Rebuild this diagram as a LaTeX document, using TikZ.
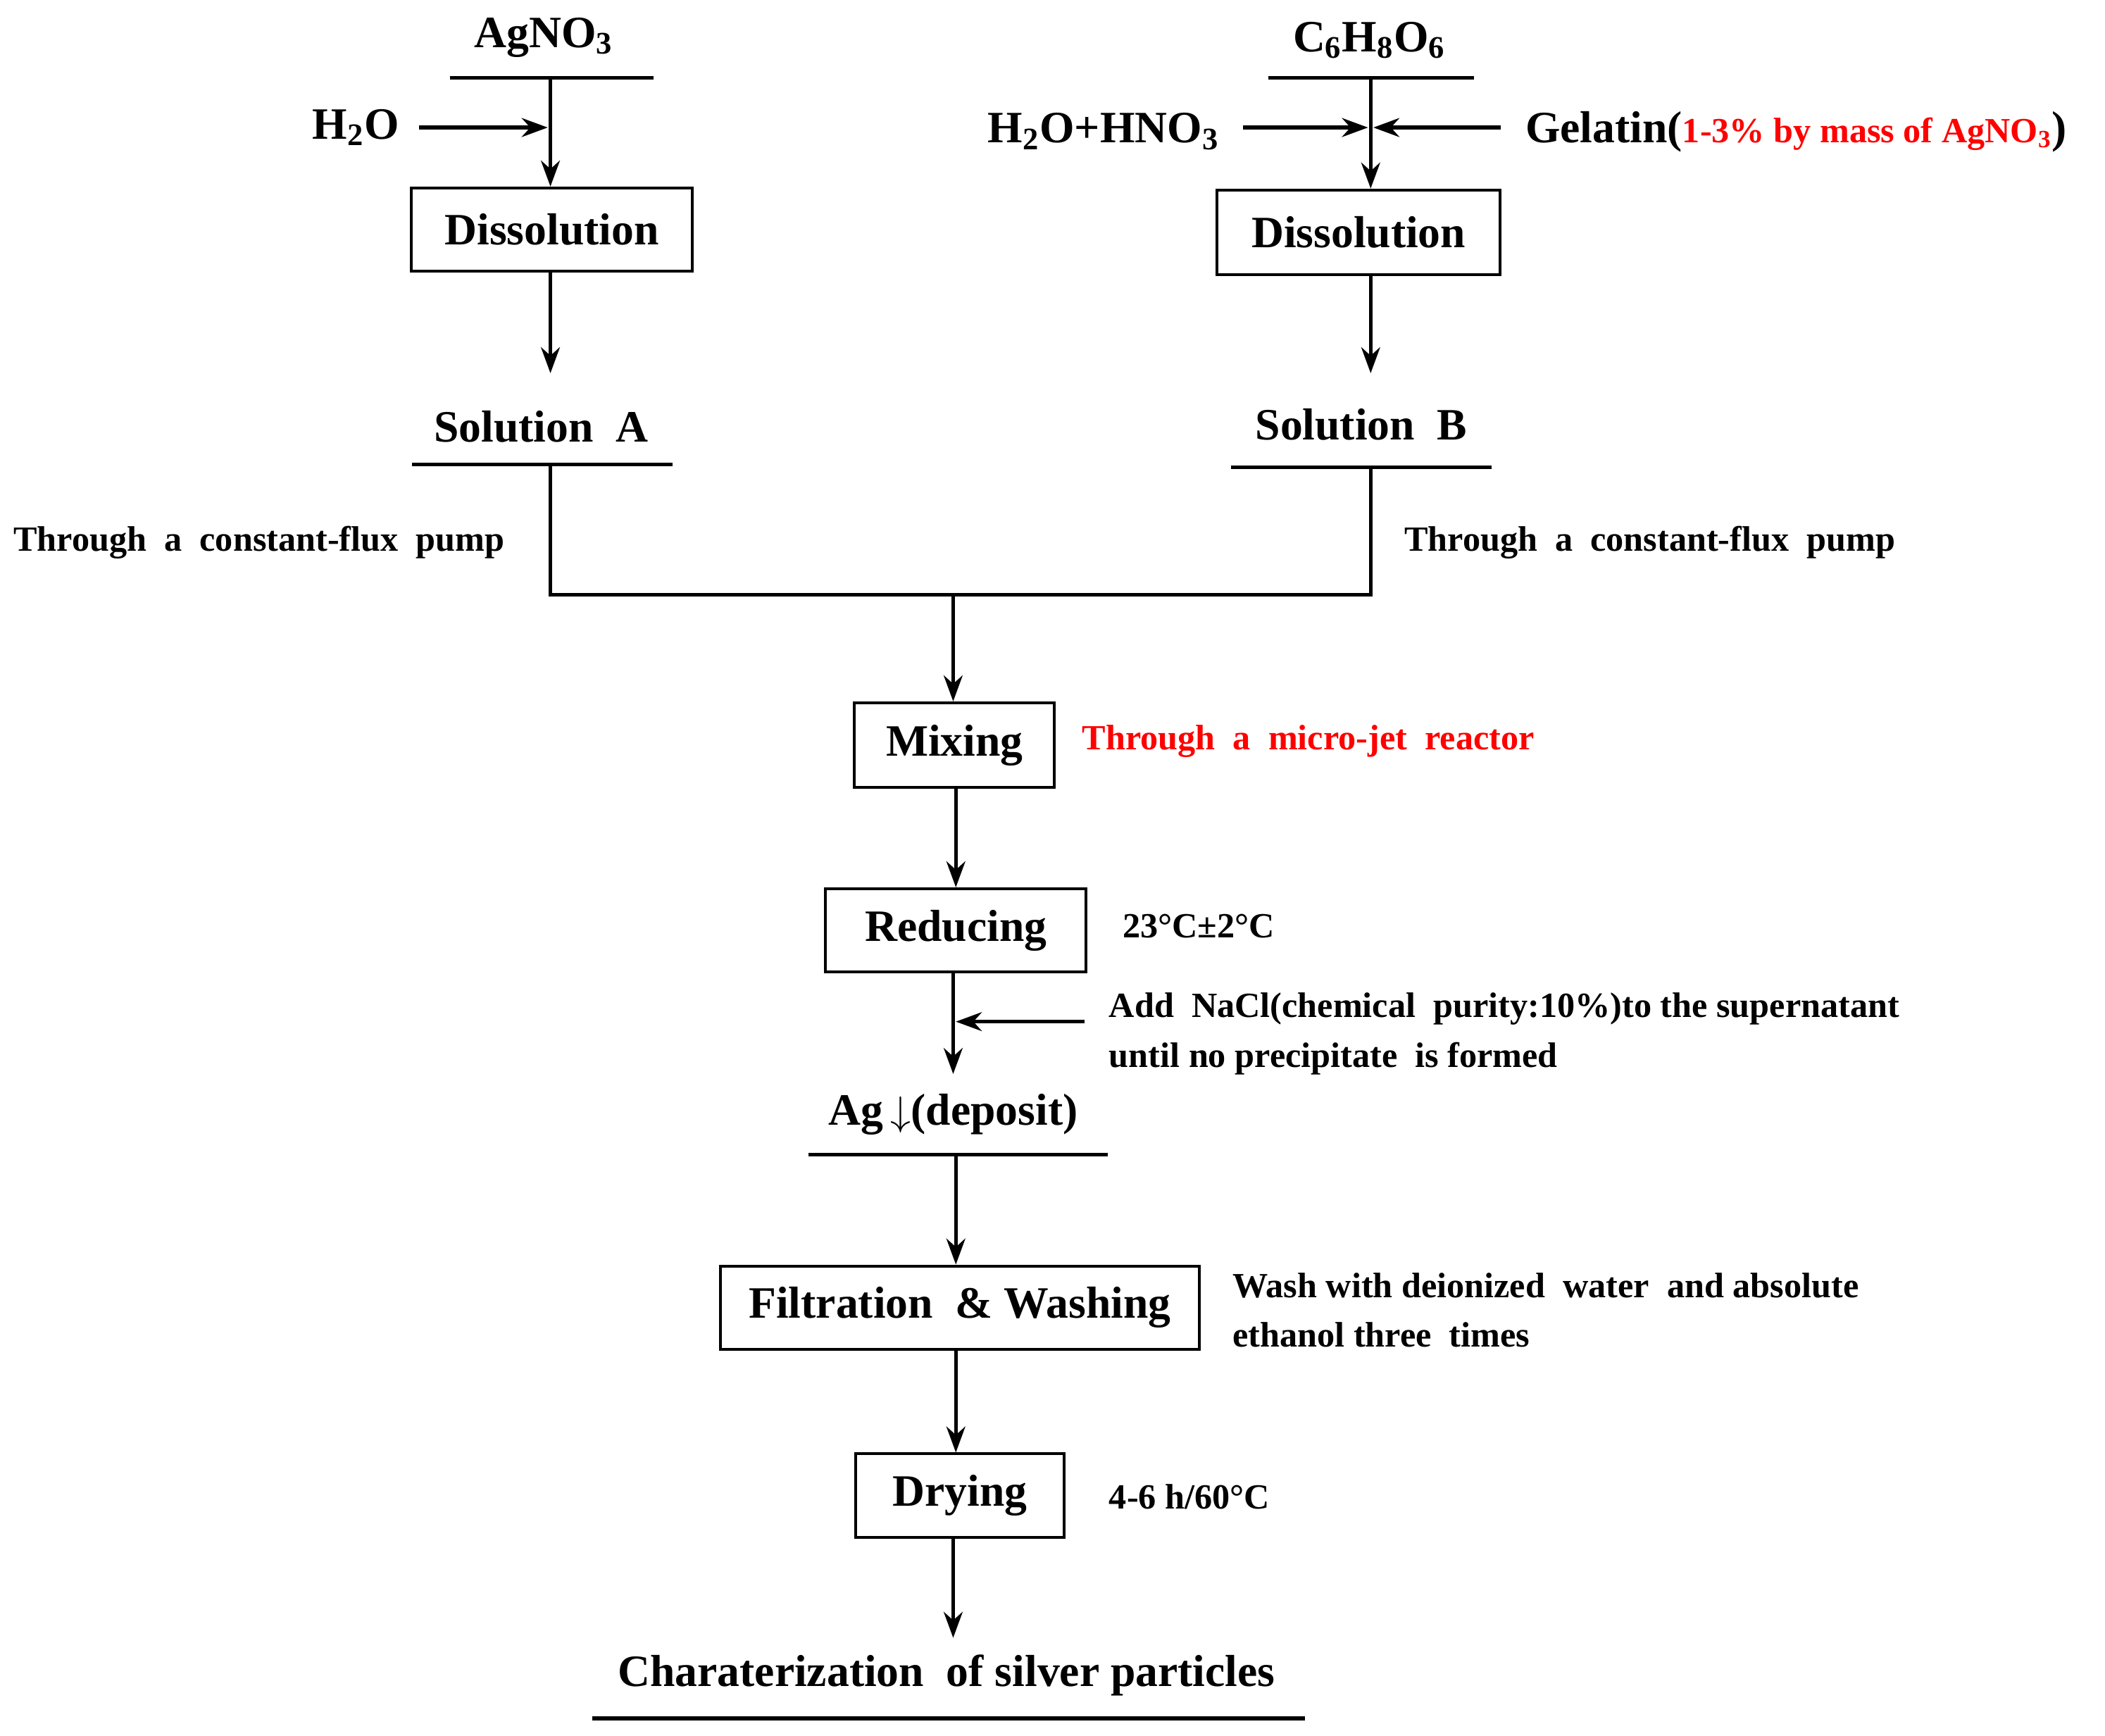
\documentclass[tikz,border=0pt]{standalone}
\usepackage{fontspec}
\setmainfont{Liberation Serif}
\usepackage{xcolor}
\usetikzlibrary{shapes,arrows,arrows.meta,positioning}

\begin{document}
\begin{tikzpicture}[
    x=0.02cm, y=-0.02cm,
    box/.style={draw, rectangle, line width=1.2pt, inner sep=0pt, align=center, font=\fontsize{19}{22}\selectfont\bfseries},
    big/.style={font=\fontsize{19}{22}\selectfont\bfseries},
    note/.style={font=\fontsize{15}{21}\selectfont\bfseries, align=left, anchor=west},
    arrow/.style={-{Stealth[length=11pt,width=8pt]}, line width=1.6pt},
    rule/.style={line width=1.6pt}
]
    \useasboundingbox (0,0) rectangle (1568,1293);

    % left branch
    \node[big] (agno) at (405,28) {AgNO\textsubscript{3}};
    \node[big] (water) at (265,95) {H\textsubscript{2}O};
    \node[box, minimum width=209*0.02cm, minimum height=62*0.02cm] (dissA) at (411,171) {Dissolution};
    \node[big] (solA) at (403,318) {Solution\ \ A};
    \coordinate (agnoL) at (335,58);  \coordinate (agnoR) at (487,58);
    \coordinate (solAL) at (307,346); \coordinate (solAR) at (501,346);
    \coordinate (agnoB) at (410,58);  \coordinate (waterE) at (408,95);
    \coordinate (solAB) at (410,346); \coordinate (solAtop) at (410,278);
    \draw[rule] (agnoL) -- (agnoR);
    \draw[rule] (solAL) -- (solAR);
    \draw[arrow] (water.east -| 312,0) -- (waterE);
    \draw[arrow] (agnoB) -- (dissA.north -| agnoB);
    \draw[arrow] (dissA.south -| agnoB) -- (solAtop);

    % right branch
    \node[big] (vitc) at (1020,30) {C\textsubscript{6}H\textsubscript{8}O\textsubscript{6}};
    \node[big] (acid) at (822,98) {H\textsubscript{2}O+HNO\textsubscript{3}};
    \node[big, anchor=west, inner sep=0pt] (gel) at (1136,98) {Gelatin(\textcolor{red}{\fontsize{15}{18}\selectfont 1-3\% by mass of AgNO\textsubscript{3}})};
    \node[box, minimum width=211*0.02cm, minimum height=63*0.02cm] (dissB) at (1012,173) {Dissolution};
    \node[big] (solB) at (1014,316) {Solution\ \ B};
    \coordinate (vitcL) at (945,58);  \coordinate (vitcR) at (1098,58);
    \coordinate (solBL) at (917,348); \coordinate (solBR) at (1111,348);
    \coordinate (vitcB) at (1021,58); \coordinate (solBtop) at (1021,278);
    \coordinate (acidS) at (926,95);  \coordinate (acidE) at (1019,95);
    \coordinate (gelS) at (1118,95);  \coordinate (gelE) at (1023,95);
    \draw[rule] (vitcL) -- (vitcR);
    \draw[rule] (solBL) -- (solBR);
    \draw[arrow] (acidS) -- (acidE);
    \draw[arrow] (gelS) -- (gelE);
    \draw[arrow] (vitcB) -- (dissB.north -| vitcB);
    \draw[arrow] (dissB.south -| vitcB) -- (solBtop);

    % pumps
    \node[note, anchor=center] (pumpA) at (193,404) {Through\ \ a\ \ constant-flux\ \ pump};
    \node[note, anchor=center] (pumpB) at (1229,404) {Through\ \ a\ \ constant-flux\ \ pump};
    \coordinate (join) at (710,443);
    \coordinate (solBB) at (1021,348);
    \draw[rule] (solAB) |- (join);
    \draw[rule] (solBB) |- (join);

    % main line
    \node[box, minimum width=149*0.02cm, minimum height=63*0.02cm] (mix) at (711,555) {Mixing};
    \node[note, text=red] (jet) at (800,552) {Through\ \ a\ \ micro-jet\ \ reactor};
    \node[box, minimum width=194*0.02cm, minimum height=62*0.02cm] (red) at (712,693) {Reducing};
    \node[note] (temp) at (830,690) {23°C±2°C};
    \node[note] (nacl) at (820,770) {Add\ \ NaCl(chemical\ \ purity:10\%)to the supernatant\\until no precipitate\ \ is formed};
    \node[big] (ag) at (710,830) {Ag\,$\downarrow$(deposit)};
    \coordinate (agL) at (602,860); \coordinate (agR) at (825,860);
    \coordinate (agtop) at (710,800); \coordinate (agB) at (712,860);
    \coordinate (naclS) at (808,761); \coordinate (naclE) at (712,761);
    \node[box, minimum width=357*0.02cm, minimum height=62*0.02cm] (filt) at (715,974) {Filtration\ \ \& Washing};
    \node[note] (wash) at (912,976) {Wash with deionized\ \ water\ \ and absolute\\ethanol three\ \ times};
    \node[box, minimum width=155*0.02cm, minimum height=62*0.02cm] (dry) at (715,1114) {Drying};
    \node[note] (time) at (820,1115) {4-6 h/60°C};
    \node[big] (char) at (705,1248) {Charaterization\ \ of silver particles};
    \coordinate (charL) at (441,1280); \coordinate (charR) at (972,1280);
    \coordinate (chartop) at (710,1220);

    \draw[arrow] (join) -- (mix.north -| join);
    \draw[arrow] (mix.south -| agB) -- (red.north -| agB);
    \draw[arrow] (red.south -| agtop) -- (agtop);
    \draw[arrow] (naclS) -- (naclE);
    \draw[rule] (agL) -- (agR);
    \draw[arrow] (agB) -- (filt.north -| agB);
    \draw[arrow] (filt.south -| agB) -- (dry.north -| agB);
    \draw[arrow] (dry.south -| chartop) -- (chartop);
    \draw[rule] (charL) -- (charR);

\end{tikzpicture}
\end{document}
